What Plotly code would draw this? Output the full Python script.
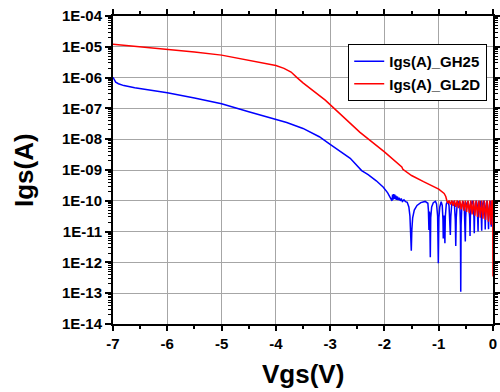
import numpy as np
import plotly.graph_objects as go

# ---- data (Vgs in V, log10(Igs/A)) ----
gh25_vgs = [
    -7.00, -6.98, -6.95, -6.90, -6.80, -6.60, -6.30, -6.00, -5.50, -5.00,
    -4.50, -4.10, -3.80, -3.50, -3.20, -3.00, -2.63, -2.42, -2.30, -2.15,
    -2.02, -1.94, -1.88,
    -1.86, -1.85, -1.84, -1.83, -1.82, -1.81, -1.80, -1.79, -1.78, -1.76,
    -1.75, -1.73, -1.71, -1.69, -1.67, -1.64, -1.61, -1.58, -1.55, -1.53,
    -1.515, -1.505, -1.495, -1.48, -1.45, -1.40, -1.33, -1.25, -1.20, -1.19,
    -1.18, -1.172, -1.165, -1.155, -1.147, -1.13, -1.10, -1.06, -1.04, -1.02,
    -1.007, -0.997, -0.98, -0.955, -0.935, -0.922, -0.916, -0.908, -0.898, -0.886,
    -0.878, -0.86, -0.835, -0.81, -0.795, -0.786, -0.777, -0.76, -0.735, -0.71,
    -0.695, -0.686, -0.677, -0.66, -0.635, -0.61, -0.600, -0.594, -0.588, -0.575,
    -0.55, -0.53, -0.517, -0.510, -0.503, -0.49, -0.465, -0.445, -0.43, -0.423,
    -0.416, -0.40, -0.38, -0.362, -0.351, -0.345, -0.339, -0.325, -0.305, -0.29,
    -0.28, -0.275, -0.270, -0.255, -0.238, -0.222, -0.213, -0.208, -0.203, -0.19,
    -0.172, -0.158, -0.148, -0.143, -0.138, -0.125, -0.11, -0.097, -0.088, -0.082,
    -0.077, -0.065, -0.052, -0.042, -0.036, -0.032, -0.028, -0.018, -0.008, 0.000,
]
gh25_log_igs = [
    -5.99, -6.08, -6.15, -6.20, -6.26, -6.33, -6.41, -6.49, -6.66, -6.85,
    -7.11, -7.30, -7.46, -7.65, -7.92, -8.17, -8.62, -9.02, -9.15, -9.35,
    -9.56, -9.74, -9.93,
    -10.00, -9.80, -9.96, -9.78, -9.94, -9.80, -9.95, -9.83, -9.97, -9.86,
    -9.98, -9.90, -10.00, -9.93, -10.02, -9.97, -10.03, -10.05, -10.20, -10.50,
    -10.95, -11.62, -10.95, -10.55, -10.30, -10.15, -10.06, -10.02, -10.08, -10.30,
    -10.95, -10.35, -10.45, -11.83, -10.55, -10.20, -10.06, -10.02, -10.10, -10.50,
    -12.03, -10.55, -10.20, -10.03, -10.15, -10.60, -11.22, -10.50, -10.50, -11.38,
    -10.50, -10.10, -10.02, -10.15, -10.55, -11.11, -10.50, -10.12, -10.02, -10.15,
    -10.60, -11.47, -10.55, -10.12, -10.02, -10.20, -10.80, -12.95, -10.80, -10.20,
    -10.02, -10.15, -10.60, -11.32, -10.55, -10.12, -10.02, -10.15, -10.55, -11.14,
    -10.50, -10.10, -10.00, -10.15, -10.55, -11.05, -10.50, -10.10, -10.00, -10.15,
    -10.55, -11.00, -10.50, -10.10, -10.00, -10.15, -10.55, -10.97, -10.50, -10.10,
    -10.00, -10.15, -10.55, -10.93, -10.50, -10.10, -10.00, -10.15, -10.55, -10.92,
    -10.50, -10.10, -10.00, -10.15, -10.50, -10.84, -10.50, -10.10, -10.00, -10.05,
]

gl2d_vgs = [
    -7.00, -6.50, -6.00, -5.50, -5.00, -4.50, -4.20, -4.00, -3.85, -3.72,
    -3.61, -3.50, -3.09, -2.45, -2.00, -1.71, -1.68, -1.66, -1.62, -1.50,
    -1.28, -1.00, -0.90, -0.87,
    -0.85, -0.83, -0.81, -0.785, -0.76, -0.735, -0.71, -0.685, -0.66, -0.635,
    -0.61, -0.585, -0.56, -0.535, -0.51, -0.485, -0.46, -0.435, -0.41, -0.385,
    -0.36, -0.335, -0.31, -0.285, -0.26, -0.235, -0.21, -0.185, -0.16, -0.135,
    -0.11, -0.085, -0.06, -0.04, -0.02, -0.005, 0.000,
]
gl2d_log_igs = [
    -4.92, -5.00, -5.08, -5.17, -5.27, -5.44, -5.54, -5.61, -5.70, -5.82,
    -6.00, -6.17, -6.73, -7.78, -8.41, -8.87, -8.90, -8.98, -9.03, -9.18,
    -9.38, -9.62, -9.76, -9.86,
    -10.00, -10.08, -9.99, -10.12, -9.99, -10.16, -9.99, -10.20, -9.99, -10.24,
    -9.99, -10.28, -9.99, -10.32, -9.99, -10.36, -9.99, -10.40, -9.99, -10.44,
    -9.99, -10.48, -9.99, -10.52, -9.99, -10.55, -9.99, -10.58, -9.99, -10.62,
    -9.99, -10.68, -9.99, -10.78, -9.99, -10.02, -12.46,
]

series_names = ["Igs(A)_GH25", "Igs(A)_GL2D"]
series_colors = ["#0000ff", "#ff0000"]

x_tick_vals = [-7, -6, -5, -4, -3, -2, -1, 0]
y_tick_exps = list(range(-14, -3))
y_tick_text = ["1E-%02d" % (-e) for e in y_tick_exps]

x_title = "Vgs(V)"
y_title = "Igs(A)"

FONT = "Arial, Liberation Sans, sans-serif"

fig = go.Figure()
fig.add_trace(go.Scatter(x=gh25_vgs, y=10 ** np.array(gh25_log_igs), mode="lines",
                         name=series_names[0], line=dict(color=series_colors[0], width=1.5)))
fig.add_trace(go.Scatter(x=gl2d_vgs, y=10 ** np.array(gl2d_log_igs), mode="lines",
                         name=series_names[1], line=dict(color=series_colors[1], width=1.5)))

minor_y = [m * 10.0 ** e for e in range(-14, -4) for m in range(2, 10)]

fig.update_layout(
    width=500, height=392,
    margin=dict(l=113, r=7, t=16, b=68, autoexpand=False),
    paper_bgcolor="white", plot_bgcolor="white",
    font=dict(family=FONT, color="black"),
    showlegend=True,
    legend=dict(x=0.619, y=0.909, xanchor="left", yanchor="top",
                bgcolor="white", bordercolor="black", borderwidth=1,
                font=dict(family=FONT, size=15, color="black", weight="bold"),
                tracegroupgap=0, itemwidth=30),
    annotations=[
        dict(text=x_title, xref="paper", yref="paper", x=0.5, y=-0.108,
             xanchor="center", yanchor="top", showarrow=False,
             font=dict(family=FONT, size=26, color="black", weight="bold")),
        dict(text=y_title, xref="paper", yref="paper", x=-0.234, y=0.5,
             xanchor="center", yanchor="middle", showarrow=False, textangle=-90,
             font=dict(family=FONT, size=26, color="black", weight="bold")),
    ],
)
fig.update_xaxes(
    range=[-7, 0], tickmode="array", tickvals=x_tick_vals,
    ticktext=[str(v) for v in x_tick_vals], automargin=False,
    showline=True, linecolor="black", linewidth=2, mirror="ticks",
    ticks="outside", ticklen=5, tickwidth=2, tickcolor="black",
    tickfont=dict(family=FONT, size=15, color="black", weight="bold"),
    showgrid=True, gridcolor="#a6a6a6", gridwidth=1, zeroline=False,
    minor=dict(tickvals=[-6.5, -5.5, -4.5, -3.5, -2.5, -1.5, -0.5], ticks="outside",
               ticklen=3, tickwidth=1.5, tickcolor="black", showgrid=False),
)
fig.update_yaxes(
    type="log", range=[-14, -4], tickmode="array",
    tickvals=[10.0 ** e for e in y_tick_exps], ticktext=y_tick_text, automargin=False,
    showline=True, linecolor="black", linewidth=2, mirror="ticks",
    ticks="outside", ticklen=6, tickwidth=2, tickcolor="black",
    tickfont=dict(family=FONT, size=15, color="black", weight="bold"),
    showgrid=True, gridcolor="#a6a6a6", gridwidth=1, zeroline=False,
    minor=dict(tickvals=minor_y, ticks="outside", ticklen=3, tickwidth=1,
               tickcolor="black", showgrid=False),
)

fig.write_html("out.html", config={"displayModeBar": False},
               post_script="document.body.style.margin='0';document.body.style.overflow='hidden';")
